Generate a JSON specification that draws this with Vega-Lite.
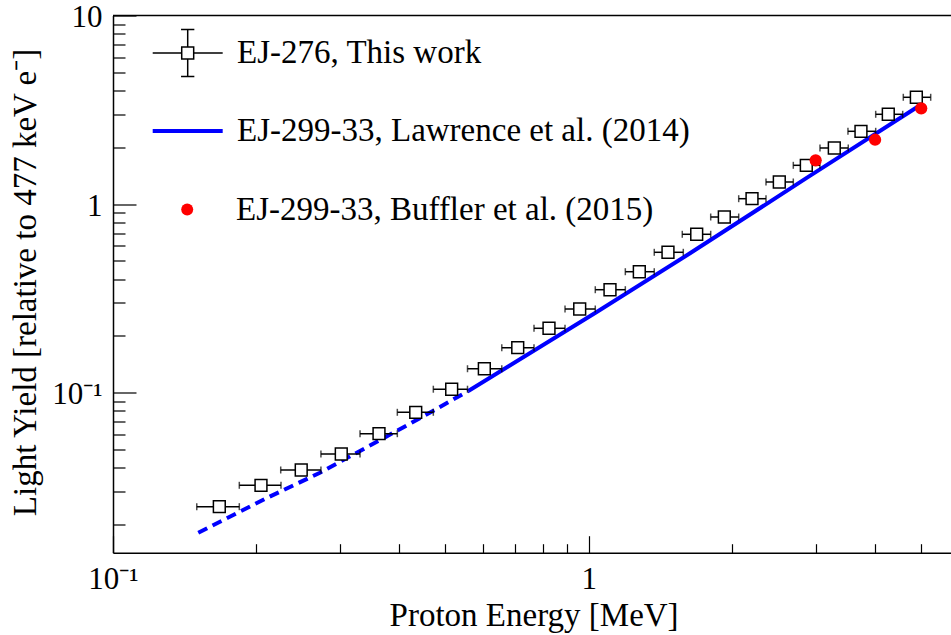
{
  "$schema": "https://vega.github.io/schema/vega-lite/v6.json",
  "width": 838,
  "height": 537.2,
  "autosize": {"type": "none"},
  "padding": {"left": 113, "top": 15.5, "right": 0, "bottom": 82.3},
  "background": "white",
  "datasets": {
    "ej276": [
      {"series": "EJ-276, This work", "E": 0.1673, "LY": 0.02479, "Elo": 0.150, "Ehi": 0.1843},
      {"series": "EJ-276, This work", "E": 0.2047, "LY": 0.03219, "Elo": 0.1843, "Ehi": 0.2255},
      {"series": "EJ-276, This work", "E": 0.2487, "LY": 0.03881, "Elo": 0.2252, "Ehi": 0.2736},
      {"series": "EJ-276, This work", "E": 0.3019, "LY": 0.04717, "Elo": 0.2736, "Ehi": 0.3306},
      {"series": "EJ-276, This work", "E": 0.3624, "LY": 0.06046, "Elo": 0.3306, "Ehi": 0.3960},
      {"series": "EJ-276, This work", "E": 0.4329, "LY": 0.07852, "Elo": 0.3960, "Ehi": 0.4714},
      {"series": "EJ-276, This work", "E": 0.5152, "LY": 0.1041, "Elo": 0.4714, "Ehi": 0.5562},
      {"series": "EJ-276, This work", "E": 0.6034, "LY": 0.1337, "Elo": 0.5562, "Ehi": 0.6566},
      {"series": "EJ-276, This work", "E": 0.7093, "LY": 0.1729, "Elo": 0.6566, "Ehi": 0.7674},
      {"series": "EJ-276, This work", "E": 0.8252, "LY": 0.2191, "Elo": 0.7674, "Ehi": 0.8917},
      {"series": "EJ-276, This work", "E": 0.9574, "LY": 0.2773, "Elo": 0.8917, "Ehi": 1.0324},
      {"series": "EJ-276, This work", "E": 1.1086, "LY": 0.3510, "Elo": 1.0324, "Ehi": 1.194},
      {"series": "EJ-276, This work", "E": 1.2776, "LY": 0.4373, "Elo": 1.194, "Ehi": 1.3735},
      {"series": "EJ-276, This work", "E": 1.4678, "LY": 0.5544, "Elo": 1.3735, "Ehi": 1.5807},
      {"series": "EJ-276, This work", "E": 1.6867, "LY": 0.6908, "Elo": 1.5730, "Ehi": 1.8050},
      {"series": "EJ-276, This work", "E": 1.9279, "LY": 0.8531, "Elo": 1.805, "Ehi": 2.067},
      {"series": "EJ-276, This work", "E": 2.2046, "LY": 1.0669, "Elo": 2.067, "Ehi": 2.359},
      {"series": "EJ-276, This work", "E": 2.5158, "LY": 1.3085, "Elo": 2.359, "Ehi": 2.6923},
      {"series": "EJ-276, This work", "E": 2.8672, "LY": 1.6042, "Elo": 2.6923, "Ehi": 3.0634},
      {"series": "EJ-276, This work", "E": 3.2832, "LY": 1.9822, "Elo": 3.0634, "Ehi": 3.5127},
      {"series": "EJ-276, This work", "E": 3.7357, "LY": 2.4304, "Elo": 3.5076, "Ehi": 4.0117},
      {"series": "EJ-276, This work", "E": 4.2637, "LY": 2.9917, "Elo": 4.0117, "Ehi": 4.5719},
      {"series": "EJ-276, This work", "E": 4.884, "LY": 3.6825, "Elo": 4.5852, "Ehi": 5.2353}
    ],
    "lawrence": [
      {"series": "EJ-299-33, Lawrence et al. (2014)", "part": "extrapolated", "E": 0.1511, "LY": 0.01804},
      {"series": "EJ-299-33, Lawrence et al. (2014)", "part": "extrapolated", "E": 0.2121, "LY": 0.02780},
      {"series": "EJ-299-33, Lawrence et al. (2014)", "part": "extrapolated", "E": 0.2723, "LY": 0.03754},
      {"series": "EJ-299-33, Lawrence et al. (2014)", "part": "extrapolated", "E": 0.3700, "LY": 0.05715},
      {"series": "EJ-299-33, Lawrence et al. (2014)", "part": "extrapolated", "E": 0.4714, "LY": 0.08006},
      {"series": "EJ-299-33, Lawrence et al. (2014)", "part": "extrapolated", "E": 0.5584, "LY": 0.1019},
      {"series": "EJ-299-33, Lawrence et al. (2014)", "part": "measured", "E": 0.5584, "LY": 0.1019},
      {"series": "EJ-299-33, Lawrence et al. (2014)", "part": "measured", "E": 1.0395, "LY": 0.2674},
      {"series": "EJ-299-33, Lawrence et al. (2014)", "part": "measured", "E": 1.6329, "LY": 0.5477},
      {"series": "EJ-299-33, Lawrence et al. (2014)", "part": "measured", "E": 2.8727, "LY": 1.375},
      {"series": "EJ-299-33, Lawrence et al. (2014)", "part": "measured", "E": 4.9172, "LY": 3.2823}
    ],
    "buffler": [
      {"series": "EJ-299-33, Buffler et al. (2015)", "E": 3.0, "LY": 1.705},
      {"series": "EJ-299-33, Buffler et al. (2015)", "E": 4.0, "LY": 2.193},
      {"series": "EJ-299-33, Buffler et al. (2015)", "E": 5.0, "LY": 3.219}
    ]
  },
  "layer": [
    {
      "data": {"values": [{}]},
      "mark": {"type": "rule", "color": "black", "strokeWidth": 1.5},
      "encoding": {
        "y": {"datum": 10, "type": "quantitative", "title": "Light Yield [relative to 477 keV e⁻]", "scale": {"type": "log", "domain": [0.01413, 10], "nice": false}}
      }
    },
    {
      "data": {"name": "lawrence"},
      "transform": [{"filter": "datum.part == 'extrapolated'"}],
      "mark": {"type": "line", "color": "#0000ff", "strokeWidth": 4, "strokeDash": [10, 6], "strokeCap": "butt"},
      "encoding": {
        "x": {"field": "E", "type": "quantitative", "title": "Proton Energy [MeV]", "scale": {"type": "log", "domain": [0.1, 5.776], "nice": false}},
        "y": {"field": "LY", "type": "quantitative", "title": "Light Yield [relative to 477 keV e⁻]", "scale": {"type": "log", "domain": [0.01413, 10], "nice": false}}
      }
    },
    {
      "data": {"name": "lawrence"},
      "transform": [{"filter": "datum.part == 'measured'"}],
      "mark": {"type": "line", "strokeWidth": 4},
      "encoding": {
        "x": {"field": "E", "type": "quantitative", "title": "Proton Energy [MeV]", "scale": {"type": "log", "domain": [0.1, 5.776], "nice": false}},
        "y": {"field": "LY", "type": "quantitative", "title": "Light Yield [relative to 477 keV e⁻]", "scale": {"type": "log", "domain": [0.01413, 10], "nice": false}},
        "color": {
          "field": "series", "type": "nominal",
          "scale": {"domain": ["EJ-299-33, Lawrence et al. (2014)"], "range": ["#0000ff"]},
          "legend": {
            "orient": "none", "legendX": 37.7, "legendY": 78.5, "padding": 0, "title": null,
            "symbolType": "stroke", "symbolSize": 4900, "symbolStrokeWidth": 4, "symbolStrokeColor": "#0000ff",
            "labelFont": "Liberation Serif", "labelFontSize": 33, "labelColor": "black", "labelLimit": 700,
            "labelOffset": 12.3
          }
        }
      }
    },
    {
      "data": {"name": "ej276"},
      "mark": {"type": "errorbar", "color": "black", "ticks": {"size": 7, "thickness": 1.5, "color": "black"}, "rule": {"strokeWidth": 1.5, "color": "black"}},
      "encoding": {
        "x": {"field": "Elo", "type": "quantitative", "title": "Proton Energy [MeV]", "scale": {"type": "log", "domain": [0.1, 5.776], "nice": false}},
        "x2": {"field": "Ehi"},
        "y": {"field": "LY", "type": "quantitative", "title": "Light Yield [relative to 477 keV e⁻]", "scale": {"type": "log", "domain": [0.01413, 10], "nice": false}}
      }
    },
    {
      "data": {"name": "ej276"},
      "mark": {"type": "square", "size": 140, "fill": "white", "strokeWidth": 1.5, "opacity": 1, "fillOpacity": 1},
      "encoding": {
        "x": {
          "field": "E", "type": "quantitative", "title": "Proton Energy [MeV]",
          "scale": {"type": "log", "domain": [0.1, 5.776], "nice": false},
          "axis": {
            "values": [0.1, 0.2, 0.3, 0.4, 0.5, 0.6, 0.7, 0.8, 0.9, 1, 2, 3, 4, 5],
            "labelExpr": "datum.value == 0.1 ? '10⁻¹' : datum.value == 1 ? '1' : ''",
            "tickSize": {"condition": {"test": "datum.value == 0.1 || datum.value == 1", "value": -17}, "value": -9},
            "tickColor": "black", "tickWidth": 1.2,
            "domainColor": "black", "domainWidth": 1.5,
            "grid": false,
            "labelFont": "Liberation Serif", "labelFontSize": 31, "labelColor": "black",
            "labelAlign": "center", "labelBaseline": "alphabetic", "labelPadding": 53,
            "labelFlush": false, "labelOverlap": false, "labelBound": false,
            "title": "Proton Energy [MeV]",
            "titleFont": "Liberation Serif", "titleFontSize": 33, "titleFontWeight": "normal", "titleColor": "black",
            "titleX": 420.6, "titleY": 72.3, "titleAlign": "center", "titleBaseline": "alphabetic"
          }
        },
        "y": {
          "field": "LY", "type": "quantitative", "title": "Light Yield [relative to 477 keV e⁻]",
          "scale": {"type": "log", "domain": [0.01413, 10], "nice": false},
          "axis": {
            "values": [0.02, 0.03, 0.04, 0.05, 0.06, 0.07, 0.08, 0.09, 0.1, 0.2, 0.3, 0.4, 0.5, 0.6, 0.7, 0.8, 0.9, 1, 2, 3, 4, 5, 6, 7, 8, 9, 10],
            "labelExpr": "datum.value == 10 ? '10' : datum.value == 1 ? '1' : datum.value == 0.1 ? '10⁻¹' : ''",
            "tickSize": {"condition": {"test": "datum.value == 0.1 || datum.value == 1 || datum.value == 10", "value": -23}, "value": -12},
            "tickColor": "black", "tickWidth": 1.2,
            "domainColor": "black", "domainWidth": 1.5,
            "grid": false,
            "labelFont": "Liberation Serif", "labelFontSize": 31, "labelColor": "black",
            "labelAlign": "right", "labelBaseline": "middle", "labelPadding": 34, "labelOffset": 2,
            "labelFlush": false, "labelOverlap": false, "labelBound": false,
            "title": "Light Yield [relative to 477 keV e⁻]",
            "titleFont": "Liberation Serif", "titleFontSize": 33, "titleFontWeight": "normal", "titleColor": "black",
            "titleAngle": 270, "titleX": -78, "titleY": 266.5, "titleAlign": "center", "titleBaseline": "alphabetic"
          }
        },
        "stroke": {
          "field": "series", "type": "nominal",
          "scale": {"domain": ["EJ-276, This work"], "range": ["black"]},
          "legend": {
            "orient": "none", "legendX": 38.7, "legendY": 1.5, "padding": 0, "title": null,
            "symbolType": "M-1,0H-0.171M0.171,0H1M0,-0.671V-0.171M0,0.171V0.671M-0.19,-0.671H0.19M-0.19,0.671H0.19M-0.171,-0.171H0.171V0.171H-0.171Z",
            "symbolSize": 4900, "symbolStrokeWidth": 1.5, "symbolFillColor": "white",
            "labelFont": "Liberation Serif", "labelFontSize": 33, "labelColor": "black", "labelLimit": 700,
            "labelOffset": 13.3
          }
        }
      }
    },
    {
      "data": {"name": "buffler"},
      "mark": {"type": "circle", "size": 150, "opacity": 1},
      "encoding": {
        "x": {"field": "E", "type": "quantitative", "title": "Proton Energy [MeV]", "scale": {"type": "log", "domain": [0.1, 5.776], "nice": false}},
        "y": {"field": "LY", "type": "quantitative", "title": "Light Yield [relative to 477 keV e⁻]", "scale": {"type": "log", "domain": [0.01413, 10], "nice": false}},
        "fill": {
          "field": "series", "type": "nominal",
          "scale": {"domain": ["EJ-299-33, Buffler et al. (2015)"], "range": ["#ff0000"]},
          "legend": {
            "orient": "none", "legendX": 57.7, "legendY": 177.5, "padding": 0, "title": null,
            "symbolType": "circle", "symbolSize": 144, "symbolStrokeWidth": 0, "symbolOpacity": 1,
            "labelFont": "Liberation Serif", "labelFontSize": 33, "labelColor": "black", "labelLimit": 700,
            "labelOffset": 32.3
          }
        }
      }
    }
  ],
  "config": {
    "font": "Liberation Serif",
    "view": {"stroke": null},
    "axis": {"grid": false}
  }
}
